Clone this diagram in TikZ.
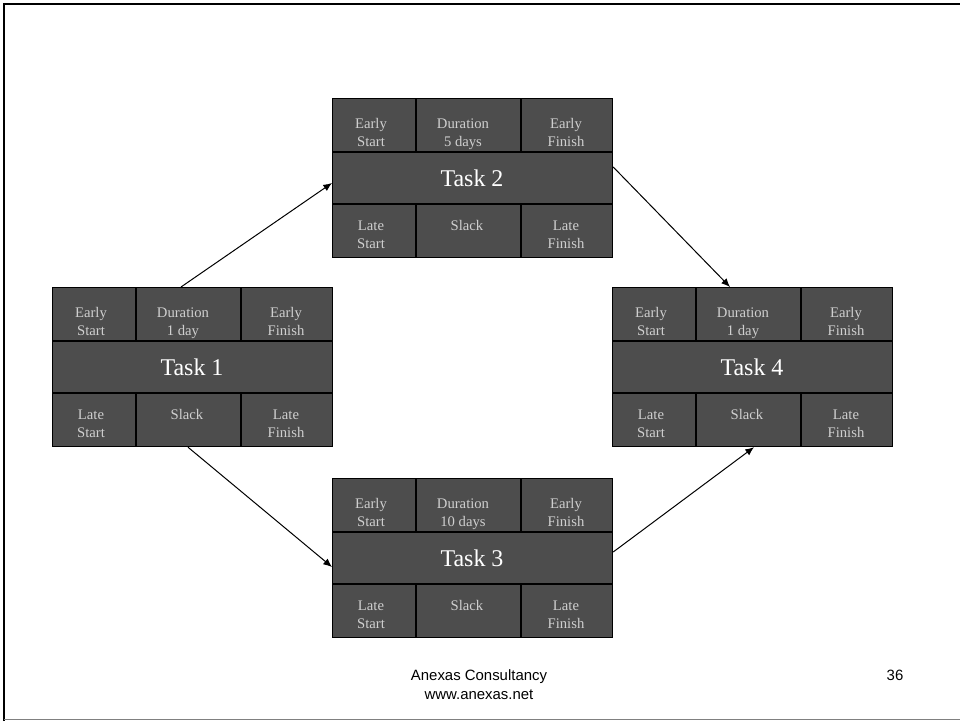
\documentclass[tikz,border=0pt]{standalone}
\usepackage{fontspec}
\setmainfont{Liberation Serif}
\newfontfamily\footfont{Liberation Sans}
\usetikzlibrary{arrows.meta,calc}
\definecolor{cellfill}{HTML}{4D4D4D}
\definecolor{celltext}{HTML}{CFCFCF}
\definecolor{framegray}{HTML}{808080}

% One activity-on-node card: name, top-left corner, duration, title.
% Two-line cell texts are placed by the baseline of their last line.
\newcommand\pertbox[4]{%
  \node[taskbox] (#1) at (#2) {};
  \draw[gridline] ($(#1.north west)+(0,54)$) -- ($(#1.north east)+(0,54)$);
  \draw[gridline] ($(#1.north west)+(0,106)$) -- ($(#1.north east)+(0,106)$);
  \draw[gridline] ($(#1.north west)+(84,0)$) -- ($(#1.north west)+(84,54)$);
  \draw[gridline] ($(#1.north west)+(189,0)$) -- ($(#1.north west)+(189,54)$);
  \draw[gridline] ($(#1.north west)+(84,106)$) -- ($(#1.north west)+(84,159)$);
  \draw[gridline] ($(#1.north west)+(189,106)$) -- ($(#1.north west)+(189,159)$);
  \node[celltxt] (#1-es) at ($(#1.north west)+(39,48)$) {Early\\Start};
  \node[celltxt] (#1-du) at ($(#1.north west)+(131,48)$) {Duration\\#3};
  \node[celltxt] (#1-ef) at ($(#1.north west)+(234,48)$) {Early\\Finish};
  \node[titletxt] (#1-t) at ($(#1.north west)+(140,88)$) {#4};
  \node[celltxt] (#1-ls) at ($(#1.north west)+(39,150)$) {Late\\Start};
  \node[celltxt] (#1-sl) at ($(#1.north west)+(135,132)$) {Slack};
  \node[celltxt] (#1-lf) at ($(#1.north west)+(234,150)$) {Late\\Finish};
}

\begin{document}
\begin{tikzpicture}[x=0.75pt,y=-0.75pt,
  taskbox/.style={draw=black, fill=cellfill, line width=0.9pt,
    minimum width=210pt, minimum height=119.25pt, inner sep=0pt,
    anchor=north west},
  gridline/.style={draw=black, line width=0.9pt},
  celltxt/.style={text=celltext, font=\fontsize{11}{13.2}\selectfont,
    align=center, anchor=base, inner sep=0pt},
  titletxt/.style={text=white, font=\fontsize{18}{21}\selectfont,
    anchor=base, inner sep=0pt},
  link/.style={draw=black, line width=0.75pt,
    -{Latex[length=6.5pt,width=5.5pt]}},
  foot/.style={font=\footfont\fontsize{11.2}{14.2}\selectfont,
    align=center, anchor=base, inner sep=0pt}]

\useasboundingbox (0,0) rectangle (960,721);

% slide frame
\draw[black, line width=2pt] (4,721) -- (4,4) -- (960,4);
\draw[framegray, line width=1.2pt] (4,719.5) -- (960,719.5);

% the four activity cards
\pertbox{t1}{52,287}{1 day}{Task 1}
\pertbox{t2}{332,98}{5 days}{Task 2}
\pertbox{t3}{332,478}{10 days}{Task 3}
\pertbox{t4}{612,287}{1 day}{Task 4}

% dependency arrows
\coordinate (a1s) at ($(t1.north west)+(129,0)$);
\coordinate (a1e) at ($(t2.north west)+(0,85)$);
\coordinate (a2s) at ($(t2.north east)+(0,69)$);
\coordinate (a2e) at ($(t4.north west)+(118,0)$);
\coordinate (a3s) at ($(t1.south west)+(136,0)$);
\coordinate (a3e) at ($(t3.north west)+(0,89)$);
\coordinate (a4s) at ($(t3.north east)+(0,74)$);
\coordinate (a4e) at ($(t4.south west)+(142,0)$);
\draw[link] (a1s) -- (a1e);
\draw[link] (a2s) -- (a2e);
\draw[link] (a3s) -- (a3e);
\draw[link] (a4s) -- (a4e);

% footer
\node[foot] (footer) at (479,699) {Anexas Consultancy\\www.anexas.net};
\node[foot] (pageno) at (895,680) {36};
\end{tikzpicture}
\end{document}
